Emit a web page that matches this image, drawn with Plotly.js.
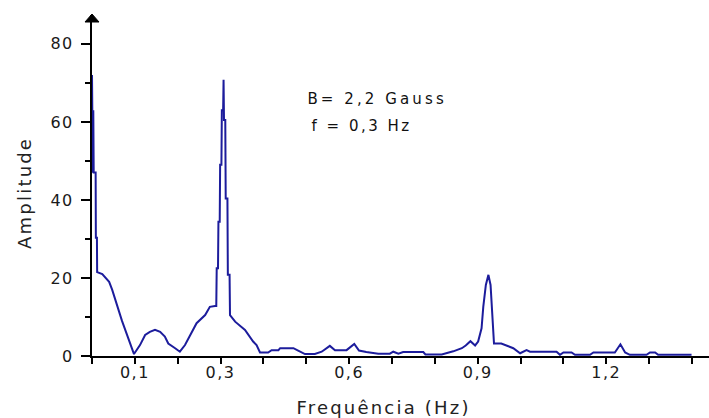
<!DOCTYPE html>
<html>
<head>
<meta charset="utf-8">
<script src="https://cdn.plot.ly/plotly-3.0.1.min.js"></script>
<style>
  html, body { margin: 0; padding: 0; background: #ffffff; }
  #chart { width: 709px; height: 418px; }
  .xtick text, .ytick text { letter-spacing: 1.5px; }
  .annotation[data-index="0"] text, .annotation[data-index="1"] text { letter-spacing: 2.2px; }
  .annotation[data-index="2"] text { letter-spacing: 3.1px; }
  .annotation[data-index="3"] text { letter-spacing: 2.5px; }
</style>
</head>
<body>
<div id="chart"></div>
<script>
// Frequency (Hz) and amplitude
const freq = [
  0, 0.002, 0.003, 0.004, 0.0085, 0.009, 0.0115, 0.012, 0.024, 0.04, 0.047, 0.07, 0.098,
  0.112, 0.124, 0.135, 0.147, 0.159, 0.170, 0.178, 0.194, 0.205, 0.217, 0.233, 0.244, 0.264, 0.275, 0.287,
  0.290, 0.291, 0.294, 0.295, 0.298, 0.299, 0.302, 0.303, 0.306, 0.307, 0.308, 0.311, 0.312, 0.316, 0.317, 0.321, 0.322,
  0.334, 0.357, 0.376, 0.384, 0.392, 0.411, 0.419, 0.435, 0.439, 0.470, 0.481, 0.497, 0.520, 0.536, 0.555, 0.567, 0.594,
  0.612, 0.623, 0.640, 0.668, 0.695, 0.703, 0.715, 0.726, 0.773, 0.778, 0.816, 0.843, 0.863, 0.872, 0.883, 0.894,
  0.901, 0.909, 0.913, 0.919, 0.925, 0.930, 0.934, 0.938, 0.955, 0.964, 0.983, 0.999, 1.014, 1.022, 1.084, 1.092,
  1.100, 1.119, 1.127, 1.162, 1.170, 1.220, 1.233, 1.244, 1.255, 1.294, 1.302, 1.314, 1.321, 1.399
];
const amplitude = [
  72, 47, 63, 47, 47, 30.3, 30.3, 21.5, 21, 19, 17, 9, 0.5,
  2.8, 5.4, 6.2, 6.7, 6.2, 5.0, 3.2, 2.0, 1.1, 2.8, 6.2, 8.4, 10.5, 12.6, 12.8,
  12.8, 22.5, 22.5, 34.4, 34.4, 49, 49, 63, 63, 70.8, 60.5, 60.5, 40.4, 40.4, 20.8, 20.8, 10.5,
  8.8, 6.7, 3.7, 2.8, 0.9, 0.9, 1.5, 1.5, 2.0, 2.0, 1.4, 0.5, 0.5, 1.1, 2.6, 1.5, 1.5,
  3.1, 1.4, 1.0, 0.6, 0.6, 1.1, 0.6, 1.0, 1.0, 0.4, 0.4, 1.2, 2.0, 2.7, 3.8, 2.7,
  3.7, 7.1, 12.6, 18.2, 20.8, 18.2, 11.4, 3.2, 3.2, 2.8, 2.0, 0.7, 1.5, 1.1, 1.1, 0.3,
  0.9, 0.9, 0.3, 0.3, 0.9, 0.9, 3.0, 0.9, 0.3, 0.3, 0.9, 0.9, 0.3, 0.3
];
const xTickVals = [0, 0.1, 0.2, 0.3, 0.4, 0.5, 0.6, 0.7, 0.8, 0.9, 1.0, 1.1, 1.2, 1.3, 1.4];
const xTickText = ['', '0,1', '', '0,3', '', '', '0,6', '', '', '0,9', '', '', '1,2', '', ''];
const yTickVals = [0, 20, 40, 60, 80];
const yTickText = ['0', '20', '40', '60', '80'];
const yMinorVals = [10, 30, 50, 70];
const xTitle = 'Frequência (Hz)';
const yTitle = 'Amplitude';
const noteLines = ['B= 2,2 Gauss', 'f = 0,3 Hz'];

const FONT = 'DejaVu Sans, Verdana, sans-serif';
const trace = {
  x: freq, y: amplitude, type: 'scatter', mode: 'lines',
  line: { color: '#1c1c9c', width: 2 }, hoverinfo: 'skip'
};
const layout = {
  width: 709, height: 418,
  margin: { l: 92, r: 0, t: 15, b: 62 },
  paper_bgcolor: '#ffffff', plot_bgcolor: '#ffffff',
  showlegend: false,
  font: { family: FONT, color: '#222222', size: 16 },
  xaxis: {
    range: [0, 1.4397], showgrid: false, zeroline: false,
    showline: true, linecolor: '#000000', linewidth: 2,
    tickmode: 'array', tickvals: xTickVals, ticktext: xTickText,
    ticks: 'outside', ticklen: 6, tickwidth: 2, tickcolor: '#000000',
    tickfont: { family: FONT, size: 16, color: '#1a1a1a' },
    ticklabelstandoff: -5
  },
  yaxis: {
    range: [0, 87.4], showgrid: false, zeroline: false,
    showline: true, linecolor: '#000000', linewidth: 2,
    tickmode: 'array', tickvals: yTickVals, ticktext: yTickText,
    ticks: 'outside', ticklen: 9, tickwidth: 2, tickcolor: '#000000',
    tickfont: { family: FONT, size: 16, color: '#1a1a1a' },
    ticklabelstandoff: 4,
    minor: { tickmode: 'array', tickvals: yMinorVals, ticks: 'outside', ticklen: 5, tickwidth: 2, tickcolor: '#000000', showgrid: false }
  },
  shapes: [{
    type: 'path', xref: 'paper', yref: 'paper',
    xsizemode: 'pixel', ysizemode: 'pixel', xanchor: 0, yanchor: 1,
    path: 'M -7 -7 L 7 -7 L 0 1 Z',
    fillcolor: '#000000', line: { color: '#000000', width: 1 }
  }],
  annotations: [
    { text: xTitle, xref: 'paper', yref: 'paper', x: 0.473, y: 0, xanchor: 'center', yanchor: 'middle',
      yshift: -51, showarrow: false, font: { family: FONT, size: 18, color: '#222222' }, borderpad: 0 },
    { text: yTitle, xref: 'paper', yref: 'paper', x: 0, y: 0.478, xanchor: 'center', yanchor: 'middle',
      xshift: -68, textangle: -90, showarrow: false, font: { family: FONT, size: 18, color: '#222222' }, borderpad: 0 },
    { text: noteLines[0], xref: 'x', yref: 'y', x: 0.666, y: 63.3, xanchor: 'center', yanchor: 'bottom',
      showarrow: false, font: { family: FONT, size: 15, color: '#111111' }, borderpad: 0 },
    { text: noteLines[1], xref: 'x', yref: 'y', x: 0.629, y: 56.3, xanchor: 'center', yanchor: 'bottom',
      showarrow: false, font: { family: FONT, size: 15, color: '#111111' }, borderpad: 0 }
  ]
};
Plotly.newPlot('chart', [trace], layout, { staticPlot: true, displayModeBar: false });
</script>
</body>
</html>
